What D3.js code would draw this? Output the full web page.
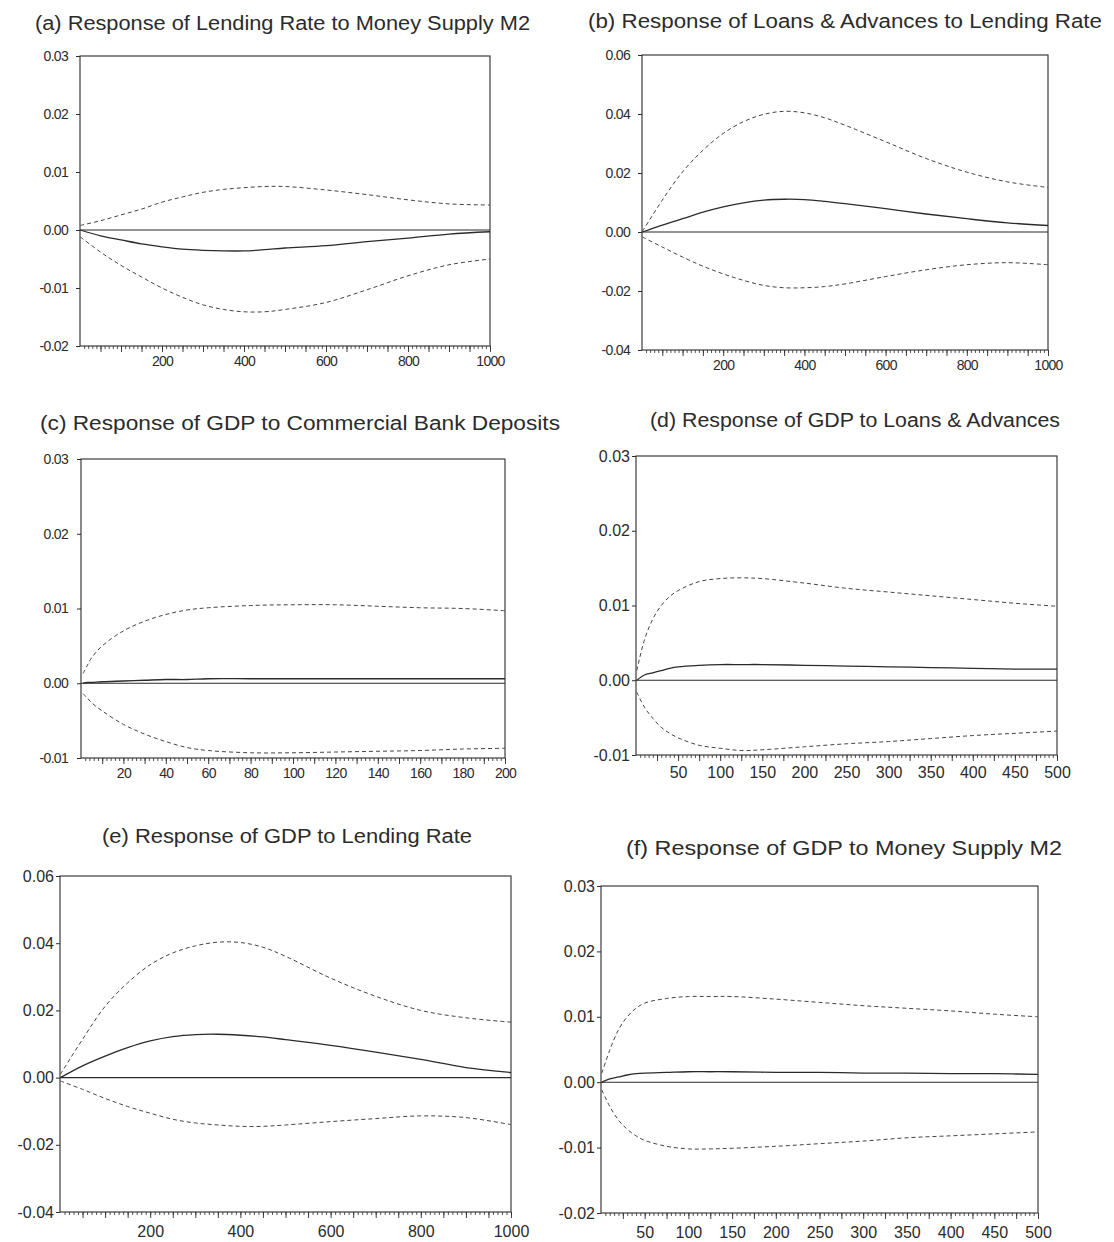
<!DOCTYPE html>
<html><head><meta charset="utf-8">
<script src="https://cdn.jsdelivr.net/npm/d3@7"></script>
<style>body{margin:0;background:#fff}</style>
</head><body>
<svg id="chart" width="1114" height="1242"></svg>
<script>
// ---- data ----
const titles = [
  "(a) Response of Lending Rate to Money Supply M2",
  "(b) Response of Loans & Advances to Lending Rate",
  "(c) Response of GDP to Commercial Bank Deposits",
  "(d) Response of GDP to Loans & Advances",
  "(e) Response of GDP to Lending Rate",
  "(f) Response of GDP to Money Supply M2"
];

const aSteps = [1,50,100,150,200,250,300,350,400,450,500,600,700,800,900,1000];
const aResp  = [0,-0.0010,-0.0017,-0.0024,-0.0029,-0.0033,-0.0035,-0.0036,-0.0036,-0.0034,-0.0031,-0.0027,-0.0020,-0.0014,-0.0007,-0.0003];
const aUpper = [0.0008,0.0016,0.0026,0.0036,0.0048,0.0057,0.0065,0.0070,0.0073,0.0075,0.0075,0.0069,0.0061,0.0052,0.0045,0.0043];
const aLower = [-0.0012,-0.0038,-0.0061,-0.0081,-0.0100,-0.0116,-0.0129,-0.0137,-0.0141,-0.0141,-0.0137,-0.0125,-0.0103,-0.0079,-0.0060,-0.0050];

const bSteps = [1,50,100,150,200,250,300,350,400,450,500,600,700,800,900,1000];
const bResp  = [0,0.0023,0.0045,0.0067,0.0085,0.0099,0.0108,0.0111,0.0110,0.0104,0.0096,0.0079,0.0061,0.0045,0.0031,0.0022];
const bUpper = [0.0002,0.0108,0.0204,0.0277,0.0334,0.0374,0.0399,0.0409,0.0404,0.0387,0.0362,0.0306,0.0249,0.0203,0.0170,0.0151];
const bLower = [-0.0017,-0.0051,-0.0085,-0.0116,-0.0142,-0.0164,-0.0181,-0.0189,-0.0189,-0.0185,-0.0176,-0.0151,-0.0128,-0.0111,-0.0104,-0.0111];

const cSteps = [1,3,5,10,20,30,40,50,60,80,100,120,140,160,180,200];
const cResp  = [0,0.0001,0.0001,0.0002,0.0003,0.0004,0.0005,0.0005,0.0006,0.0006,0.0006,0.0006,0.0006,0.0006,0.0006,0.0006];
const cUpper = [0.0013,0.0024,0.0034,0.0050,0.0070,0.0083,0.0092,0.0098,0.0101,0.0104,0.0105,0.0105,0.0103,0.0101,0.0100,0.0097];
const cLower = [-0.0014,-0.0020,-0.0026,-0.0037,-0.0055,-0.0068,-0.0078,-0.0086,-0.0090,-0.0093,-0.0093,-0.0092,-0.0091,-0.0090,-0.0088,-0.0087];

const dSteps = [1,10,20,30,40,50,75,100,125,150,200,250,300,350,400,450,500];
const dResp  = [0,0.0007,0.0010,0.0013,0.0016,0.0018,0.0020,0.0021,0.0021,0.0021,0.0020,0.0019,0.0018,0.0017,0.0016,0.0015,0.0015];
const dUpper = [0.0013,0.0054,0.0082,0.0100,0.0112,0.0120,0.0132,0.0136,0.0137,0.0136,0.0130,0.0123,0.0118,0.0113,0.0108,0.0103,0.0099];
const dLower = [-0.0016,-0.0036,-0.0051,-0.0063,-0.0071,-0.0077,-0.0087,-0.0091,-0.0094,-0.0093,-0.0089,-0.0085,-0.0082,-0.0078,-0.0074,-0.0071,-0.0068];

const eSteps = [1,50,100,150,200,250,300,350,400,450,500,600,700,800,900,1000];
const eResp  = [0,0.0035,0.0064,0.0089,0.0109,0.0122,0.0128,0.0129,0.0126,0.0121,0.0113,0.0096,0.0076,0.0054,0.0030,0.0015];
const eUpper = [0.0010,0.0114,0.0212,0.0282,0.0336,0.0371,0.0392,0.0403,0.0402,0.0388,0.0361,0.0296,0.0242,0.0200,0.0178,0.0165];
const eLower = [-0.0010,-0.0035,-0.0062,-0.0086,-0.0106,-0.0124,-0.0135,-0.0141,-0.0145,-0.0145,-0.0141,-0.0131,-0.0122,-0.0114,-0.0119,-0.0140];

const fSteps = [1,10,20,30,40,50,75,100,125,150,200,250,300,350,400,450,500];
const fResp  = [0,0.0005,0.0008,0.0011,0.0013,0.0014,0.0015,0.0016,0.0016,0.0016,0.0015,0.0015,0.0014,0.0014,0.0013,0.0013,0.0012];
const fUpper = [0.0014,0.0049,0.0080,0.0100,0.0113,0.0121,0.0128,0.0131,0.0131,0.0131,0.0127,0.0122,0.0117,0.0113,0.0109,0.0104,0.0100];
const fLower = [-0.0012,-0.0037,-0.0058,-0.0072,-0.0082,-0.0089,-0.0098,-0.0102,-0.0102,-0.0101,-0.0098,-0.0094,-0.0090,-0.0085,-0.0082,-0.0079,-0.0076];

const yTicksA = [-0.02,-0.01,0.00,0.01,0.02,0.03];
const yTicksB = [-0.04,-0.02,0.00,0.02,0.04,0.06];
const yTicksC = [-0.01,0.00,0.01,0.02,0.03];
const yTicksD = [-0.01,0.00,0.01,0.02,0.03];
const yTicksE = [-0.04,-0.02,0.00,0.02,0.04,0.06];
const yTicksF = [-0.02,-0.01,0.00,0.01,0.02,0.03];

const xLabels1000 = [200,400,600,800,1000];
const xLabels200  = [20,40,60,80,100,120,140,160,180,200];
const xLabels500  = [50,100,150,200,250,300,350,400,450,500];

// ---- layout ----
const panels = [
  {title:titles[0], steps:aSteps, resp:aResp, up:aUpper, lo:aLower, yTicks:yTicksA, xLabels:xLabels1000, xMax:1000, minor:10, mid:50,
   box:[80,490,56,346], tx:[35,530], ty:30, tfs:20, fs:14, ls:-0.7, ylGap:12, xlY:20},
  {title:titles[1], steps:bSteps, resp:bResp, up:bUpper, lo:bLower, yTicks:yTicksB, xLabels:xLabels1000, xMax:1000, minor:10, mid:50,
   box:[642,1048,55,350], tx:[588,1102], ty:28, tfs:20, fs:14, ls:-0.7, ylGap:12, xlY:20},
  {title:titles[2], steps:cSteps, resp:cResp, up:cUpper, lo:cLower, yTicks:yTicksC, xLabels:xLabels200, xMax:200, minor:2, mid:10,
   box:[81,505,459,758], tx:[40,560], ty:430, tfs:20, fs:14, ls:-0.7, ylGap:13, xlY:20},
  {title:titles[3], steps:dSteps, resp:dResp, up:dUpper, lo:dLower, yTicks:yTicksD, xLabels:xLabels500, xMax:500, minor:5, mid:25,
   box:[636,1057,456,755], tx:[650,1060], ty:427, tfs:20, fs:16, ls:0, ylGap:6, xlY:23},
  {title:titles[4], steps:eSteps, resp:eResp, up:eUpper, lo:eLower, yTicks:yTicksE, xLabels:xLabels1000, xMax:1000, minor:10, mid:50,
   box:[60,511,876,1212], tx:[102,472], ty:843, tfs:20, fs:16, ls:0, ylGap:6, xlY:25},
  {title:titles[5], steps:fSteps, resp:fResp, up:fUpper, lo:fLower, yTicks:yTicksF, xLabels:xLabels500, xMax:500, minor:5, mid:25,
   box:[601,1038,886,1213], tx:[626,1062], ty:855, tfs:20, fs:16, ls:0, ylGap:6, xlY:25}
];

const ink = "#2b2b2b";
const svg = d3.select("#chart");

panels.forEach(p => {
  const [L,R,T,B] = p.box;
  const x = d3.scaleLinear().domain([0,p.xMax]).range([L,R]);
  const y = d3.scaleLinear().domain([p.yTicks[0], p.yTicks[p.yTicks.length-1]]).range([B,T]);
  const g = svg.append("g");

  g.append("text").attr("x",p.tx[0]).attr("y",p.ty)
    .attr("textLength",p.tx[1]-p.tx[0]).attr("lengthAdjust","spacingAndGlyphs")
    .style("font-family","Arial, 'Liberation Sans', sans-serif").style("font-size",p.tfs+"px")
    .style("fill",ink).text(p.title);

  g.append("rect").attr("x",L).attr("y",T).attr("width",R-L).attr("height",B-T)
    .attr("fill","none").attr("stroke",ink).attr("stroke-width",1.1);

  const yAxis = d3.axisLeft(y).tickValues(p.yTicks).tickSize(4).tickPadding(p.ylGap-4)
    .tickFormat(d => d.toFixed(2));
  const ya = g.append("g").attr("transform",`translate(${L},0)`).call(yAxis);
  ya.select(".domain").remove();
  ya.selectAll("line").attr("stroke",ink);
  ya.selectAll("text").style("font-family","Arial, 'Liberation Sans', sans-serif")
    .style("font-size",p.fs+"px").style("letter-spacing",p.ls+"px").style("fill",ink);

  const minorVals = d3.range(p.minor, p.xMax+0.001, p.minor);
  const xMinor = d3.axisBottom(x).tickValues(minorVals).tickSize(3).tickFormat("");
  const xm = g.append("g").attr("transform",`translate(0,${B})`).call(xMinor);
  xm.select(".domain").remove();
  xm.selectAll("line").attr("stroke",ink).attr("stroke-width",0.8);
  const midVals = d3.range(p.mid, p.xMax+0.001, p.mid);
  const xMid = d3.axisBottom(x).tickValues(midVals).tickSize(6).tickFormat("");
  const xd = g.append("g").attr("transform",`translate(0,${B})`).call(xMid);
  xd.select(".domain").remove();
  xd.selectAll("line").attr("stroke",ink).attr("stroke-width",0.9);

  const xLab = d3.axisBottom(x).tickValues(p.xLabels).tickSize(0)
    .tickPadding(p.xlY-p.fs*0.71).tickFormat(d3.format("d"));
  const xl = g.append("g").attr("transform",`translate(0,${B})`).call(xLab);
  xl.select(".domain").remove();
  xl.selectAll("text").style("font-family","Arial, 'Liberation Sans', sans-serif")
    .style("font-size",p.fs+"px").style("letter-spacing",p.ls+"px").style("fill",ink);

  g.append("line").attr("x1",L).attr("x2",R).attr("y1",y(0)).attr("y2",y(0))
    .attr("stroke",ink).attr("stroke-width",1.1);

  const line = d3.line().x((d,i)=>x(p.steps[i])).y(d=>y(d)).curve(d3.curveCatmullRom.alpha(0.5));
  g.append("path").attr("d",line(p.up)).attr("fill","none").attr("stroke","#444")
    .attr("stroke-width",1).attr("stroke-dasharray","4,3");
  g.append("path").attr("d",line(p.lo)).attr("fill","none").attr("stroke","#444")
    .attr("stroke-width",1).attr("stroke-dasharray","4,3");
  g.append("path").attr("d",line(p.resp)).attr("fill","none").attr("stroke",ink)
    .attr("stroke-width",1.3);
});
</script>
</body></html>
